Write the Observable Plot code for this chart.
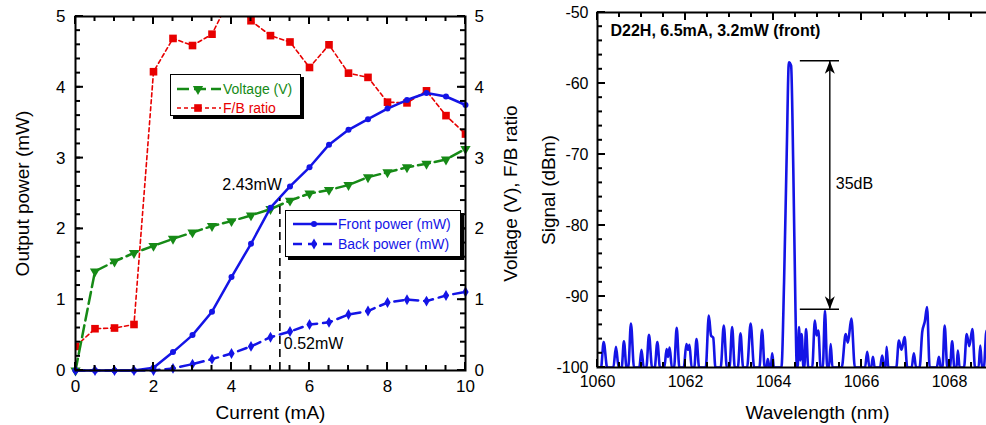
<!DOCTYPE html>
<html><head><meta charset="utf-8">
<script src="https://cdn.jsdelivr.net/npm/d3@7"></script>
<script src="https://cdn.jsdelivr.net/npm/@observablehq/plot@0.6"></script>
<style>
html,body{margin:0;padding:0;background:#fff;overflow:hidden;width:986px;height:425px;}
#wrap{position:relative;width:1100px;height:425px;font-family:'Liberation Sans',Arial,Helvetica,sans-serif;}
.layer{position:absolute;top:0;}
.legend{position:absolute;background:#fff;border:1.5px solid #000;box-shadow:3px 3px 0 #000;box-sizing:border-box;z-index:5;}
.row{position:absolute;left:0;height:18px;display:flex;align-items:center;font-size:14px;white-space:nowrap;}
.row svg{display:block;}
</style></head><body>
<div id="wrap">
  <div id="left" class="layer" style="left:0;z-index:1"></div>
  <div id="right" class="layer" style="left:528px;z-index:1"></div>
  <div class="legend" id="leg1" style="left:170px;top:74px;width:131px;height:42px;"></div>
  <div class="legend" id="leg2" style="left:285px;top:210px;width:176px;height:47px;"></div>
</div>
<script>
// ---------- Data: left panel ----------
const current = [0, 0.5, 1, 1.5, 2, 2.5, 3, 3.5, 4, 4.5, 5, 5.5, 6, 6.5, 7, 7.5, 8, 8.5, 9, 9.5, 10];
const frontPower = [0, 0, 0, 0, 0.04, 0.26, 0.50, 0.83, 1.32, 1.79, 2.30, 2.60, 2.87, 3.19, 3.40, 3.55, 3.70, 3.82, 3.92, 3.87, 3.75];
const backPower = [0, 0, 0, 0, 0, 0.03, 0.09, 0.16, 0.24, 0.34, 0.47, 0.55, 0.65, 0.68, 0.79, 0.84, 0.96, 1.00, 0.98, 1.06, 1.11];
const voltage = [0, 1.40, 1.54, 1.66, 1.76, 1.86, 1.95, 2.04, 2.11, 2.19, 2.28, 2.40, 2.50, 2.55, 2.62, 2.73, 2.80, 2.87, 2.92, 2.98, 3.13];
const fbRatio = [0.34, 0.59, 0.60, 0.65, 4.22, 4.69, 4.59, 4.75, 5.30, 4.94, 4.73, 4.64, 4.28, 4.60, 4.20, 4.14, 3.79, 3.78, 3.95, 3.60, 3.34];
const markCurrent = 5.24;
const markFront = 2.43;
const markBack = 0.52;
const leftXTicks = [0, 2, 4, 6, 8, 10];
const leftYTicks = [0, 1, 2, 3, 4, 5];

// ---------- Data: right panel (spectrum) ----------
const wavelength = [
 1060.00,1060.08,1060.14,1060.22,1060.36,1060.42,1060.48,1060.55,1060.60,1060.66,
 1060.70,1060.76,1060.83,1060.95,1061.00,1061.05,1061.11,1061.17,1061.24,1061.30,
 1061.36,1061.42,1061.52,1061.57,1061.60,1061.64,1061.69,1061.74,1061.80,1061.86,
 1061.96,1062.02,1062.06,1062.09,1062.14,1062.20,1062.25,1062.31,1062.46,1062.53,
 1062.58,1062.63,1062.68,1062.80,1062.87,1062.94,1063.00,1063.06,1063.12,1063.19,
 1063.25,1063.31,1063.40,1063.48,1063.56,1063.68,1063.74,1063.80,1063.84,1063.87,
 1063.91,1063.94,1063.97,1064.01,1064.18,1064.24,1064.30,1064.35,1064.40,1064.45,
 1064.50,1064.53,1064.55,1064.58,1064.61,1064.64,1064.68,1064.70,1064.74,1064.79,
 1064.88,1064.94,1064.98,1065.02,1065.07,1065.12,1065.17,1065.22,1065.26,1065.30,
 1065.34,1065.55,1065.64,1065.69,1065.77,1065.85,1066.08,1066.13,1066.18,1066.22,
 1066.26,1066.30,1066.42,1066.47,1066.52,1066.55,1066.57,1066.61,1066.79,1066.85,
 1066.91,1066.98,1067.04,1067.14,1067.19,1067.24,1067.32,1067.38,1067.44,1067.49,
 1067.55,1067.71,1067.76,1067.80,1067.84,1067.89,1067.95,1068.01,1068.06,1068.11,
 1068.16,1068.19,1068.23,1068.33,1068.39,1068.45,1068.52,1068.58,1068.66,1068.70,
 1068.74,1068.78,1068.84,1068.90,1068.95,1069.00];
const signal = [
 -100,-100,-96.4,-100,-100,-97.1,-100,-100,-96.3,-100,
 -100,-93.8,-100,-100,-97.5,-100,-100,-95.4,-100,-100,
 -96.4,-100,-100,-97.4,-98.5,-97.2,-100,-100,-94.4,-100,
 -100,-96.7,-97.5,-96.8,-100,-100,-96.0,-100,-100,-92.7,
 -95.5,-95.8,-100,-100,-94.1,-100,-100,-94.3,-100,-100,
 -95.2,-100,-100,-93.8,-100,-100,-94.7,-100,-100,-98.8,
 -100,-100,-98.0,-100,-100,-88,-70,-57,-57.5,-72,
 -92,-100,-100,-94.3,-99,-95.3,-100,-100,-94.6,-100,
 -100,-93.4,-95.5,-94.8,-100,-100,-92.0,-100,-100,-96.7,
 -100,-100,-95.3,-96.5,-93.1,-100,-100,-97.8,-100,-100,
 -98.5,-100,-100,-98.3,-100,-100,-97.1,-100,-100,-96.2,
 -97.5,-95.7,-100,-100,-98.0,-100,-100,-95.0,-93.5,-91.5,
 -100,-100,-98.5,-100,-100,-94.1,-100,-100,-96.3,-100,
 -100,-97.6,-100,-100,-95.3,-97,-94.6,-100,-100,-96.9,
 -100,-100,-94.8,-100,-97,-100];
const smsrX = 1065.28;
const smsrTop = -56.8;
const smsrBottom = -91.8;
const smsrBarX1 = 1064.61, smsrBarX2 = 1065.50;
const smsrLabel = "35dB";
const smsrLabelY = -74.1;
const specTitle = "D22H, 6.5mA, 3.2mW (front)";
const rightXTicks = [1060, 1062, 1064, 1066, 1068, 1070];
const rightXLabels = [1060, 1062, 1064, 1066, 1068];
const rightYTicks = [-100, -90, -80, -70, -60, -50];

// ---------- Styles ----------
const FONT = "'Liberation Sans', Arial, Helvetica, sans-serif";
const BLUE = "#1414e6", GREEN = "#168a16", RED = "#e80000";

const rows = current.map((c, i) => ({c, front: frontPower[i], back: backPower[i], v: voltage[i], fb: fbRatio[i]}));
const spec = wavelength.map((w, i) => ({w, s: signal[i]}));

function range(a, b, s) { const out = []; for (let i = 0; a + i * s <= b + 1e-9; i++) out.push(+(a + i * s).toFixed(4)); return out; }
const plain = d => String(d);

// Inward ticks: positions come from the chart's own Plot scales
function addInwardTicks(svg, cfg, specs) {
  const sx = svg.scale("x"), sy = svg.scale("y");
  const x0 = cfg.ml, x1 = cfg.w - cfg.mr, y0 = cfg.mt, y1 = cfg.h - cfg.mb;
  const g = d3.select(svg).append("g").attr("stroke", "#000").attr("stroke-width", 2);
  for (const [side, ticks, size] of specs) {
    for (const t of ticks) {
      if (side === "left" || side === "right") {
        const y = sy.apply(t);
        const xa = side === "left" ? x0 : x1, xb = side === "left" ? x0 + size : x1 - size;
        g.append("line").attr("x1", xa).attr("x2", xb).attr("y1", y).attr("y2", y);
      } else {
        const x = sx.apply(t);
        const ya = side === "bottom" ? y1 : y0, yb = side === "bottom" ? y1 - size : y0 + size;
        g.append("line").attr("x1", x).attr("x2", x).attr("y1", ya).attr("y2", yb);
      }
    }
  }
}

// ---------- Left chart ----------
const L = {w: 540, h: 425, ml: 75, mr: 75, mt: 16, mb: 55};
const left = Plot.plot({
  width: L.w, height: L.h,
  marginLeft: L.ml, marginRight: L.mr, marginTop: L.mt, marginBottom: L.mb,
  style: {fontFamily: FONT, fontSize: "17px", color: "#000", background: "#fff"},
  x: {domain: [0, 10], axis: null},
  y: {domain: [0, 5], axis: null},
  marks: [
    Plot.line(rows, {x: "c", y: "fb", stroke: RED, strokeWidth: 1.6, strokeDasharray: "4,3", clip: true}),
    Plot.dot(rows, {x: "c", y: "fb", symbol: "square", r: 4.3, fill: RED, stroke: "none", clip: true}),
    Plot.line(rows, {x: "c", y: "v", stroke: GREEN, strokeWidth: 2.5, strokeDasharray: "12,5"}),
    Plot.dot(rows, {x: "c", y: "v", symbol: "triangle", rotate: 180, r: 3.8, fill: GREEN, stroke: "none"}),
    Plot.line(rows, {x: "c", y: "back", stroke: BLUE, strokeWidth: 2.5, strokeDasharray: "9,6"}),
    Plot.dot(rows, {x: "c", y: "back", symbol: "diamond", r: 3.3, fill: BLUE, stroke: "none"}),
    Plot.line(rows, {x: "c", y: "front", stroke: BLUE, strokeWidth: 2.5}),
    Plot.dot(rows, {x: "c", y: "front", r: 3, fill: BLUE, stroke: "none"}),
    Plot.ruleX([markCurrent], {y1: 0, y2: markFront, stroke: "#000", strokeWidth: 1.6, strokeDasharray: "8,5"}),
    Plot.text([markFront], {x: markCurrent, y: d => d, text: d => d.toFixed(2) + "mW", textAnchor: "end", dx: 2, dy: -14, fontSize: 16}),
    Plot.text([markBack], {x: markCurrent, y: d => d, text: d => d.toFixed(2) + "mW", textAnchor: "start", dx: 4, dy: 10, fontSize: 16}),
    Plot.axisY({anchor: "left", ticks: leftYTicks, tickFormat: plain, tickSize: 0, tickPadding: 10, fontSize: 17, label: null}),
    Plot.axisY({anchor: "right", ticks: leftYTicks, tickFormat: plain, tickSize: 0, tickPadding: 9, fontSize: 17, label: null}),
    Plot.axisX({anchor: "bottom", ticks: leftXTicks, tickFormat: plain, tickSize: 0, tickPadding: 9, fontSize: 17, label: null}),
    Plot.text(["Output power (mW)"], {frameAnchor: "left", dx: -53, rotate: -90, text: d => d, textAnchor: "middle", lineAnchor: "middle", fontSize: 19}),
    Plot.text(["Voltage (V), F/B ratio"], {frameAnchor: "right", dx: 45, rotate: -90, text: d => d, textAnchor: "middle", lineAnchor: "middle", fontSize: 19}),
    Plot.text(["Current (mA)"], {frameAnchor: "bottom", dy: 42, text: d => d, textAnchor: "middle", lineAnchor: "middle", fontSize: 19}),
    Plot.frame({stroke: "#000", strokeWidth: 2})
  ]
});
left.style.maxWidth = "none";
addInwardTicks(left, L, [
  ["left", range(0, 5, 0.2), 5], ["left", leftYTicks, 8],
  ["right", range(0, 5, 0.2), 5], ["right", leftYTicks, 8],
  ["bottom", range(0, 10, 0.5), 5], ["bottom", leftXTicks, 8],
  ["top", range(0, 10, 0.5), 5], ["top", leftXTicks, 8]
]);
document.getElementById("left").appendChild(left);

// ---------- Right chart ----------
const R = {w: 512, h: 425, ml: 69, mr: 3, mt: 12, mb: 58};
const arrowHead = {draw(context, l) {
  context.moveTo(0, 0); context.lineTo(-5, l); context.lineTo(0, l * 0.72); context.lineTo(5, l); context.closePath();
}};
const right = Plot.plot({
  width: R.w, height: R.h,
  marginLeft: R.ml, marginRight: R.mr, marginTop: R.mt, marginBottom: R.mb,
  style: {fontFamily: FONT, fontSize: "16px", color: "#000", background: "#fff"},
  x: {domain: [1060, 1070], axis: null},
  y: {domain: [-100, -50], axis: null},
  marks: [
    Plot.line(spec, {x: "w", y: "s", stroke: BLUE, strokeWidth: 2.6, curve: "monotone-x", clip: true}),
    Plot.ruleX([smsrX], {y1: smsrBottom, y2: smsrTop, stroke: "#000", strokeWidth: 1.4}),
    Plot.ruleY([smsrTop, smsrBottom], {x1: smsrBarX1, x2: smsrBarX2, stroke: "#000", strokeWidth: 1.4}),
    Plot.vector([smsrTop], {x: smsrX, y: d => d, length: 13, anchor: "start", rotate: 0, shape: arrowHead, fill: "#000", stroke: "none"}),
    Plot.vector([smsrBottom], {x: smsrX, y: d => d, length: 13, anchor: "start", rotate: 180, shape: arrowHead, fill: "#000", stroke: "none"}),
    Plot.text([smsrLabel], {x: smsrX, y: smsrLabelY, text: d => d, textAnchor: "start", dx: 6, fontSize: 16}),
    Plot.text([specTitle], {frameAnchor: "top-left", dx: 13, dy: 18, text: d => d, textAnchor: "start", lineAnchor: "middle", fontSize: 16, fontWeight: "bold"}),
    Plot.axisY({anchor: "left", ticks: rightYTicks, tickFormat: plain, tickSize: 0, tickPadding: 9, fontSize: 16, label: null}),
    Plot.axisX({anchor: "bottom", ticks: rightXLabels, tickFormat: plain, tickSize: 0, tickPadding: 8, fontSize: 16, label: null}),
    Plot.text(["Signal (dBm)"], {frameAnchor: "left", dx: -49, rotate: -90, text: d => d, textAnchor: "middle", lineAnchor: "middle", fontSize: 19}),
    Plot.text(["Wavelength (nm)"], {frameAnchor: "bottom", dy: 45, text: d => d, textAnchor: "middle", lineAnchor: "middle", fontSize: 19}),
    Plot.frame({stroke: "#000", strokeWidth: 2})
  ]
});
right.style.maxWidth = "none";
addInwardTicks(right, R, [
  ["left", range(-100, -50, 2), 5], ["left", rightYTicks, 8],
  ["bottom", range(1060, 1070, 0.5), 5], ["bottom", rightXTicks, 8],
  ["top", range(1060, 1070, 0.5), 5], ["top", rightXTicks, 8]
]);
document.getElementById("right").appendChild(right);

// ---------- Legends ----------
function sample(color, dash, width, symbol, rot, r) {
  const sym = d3.symbol(symbol, Math.PI * r * r)();
  return `<svg width="46" height="18"><line x1="1" x2="45" y1="9" y2="9" stroke="${color}" stroke-width="${width}" ${dash ? `stroke-dasharray="${dash}"` : ""}/>` +
    `<path d="${sym}" transform="translate(22,9) rotate(${rot})" fill="${color}"/></svg>`;
}
const legend1 = [
  {label: "Voltage (V)", color: GREEN, dash: "12,5", w: 2.5, sym: d3.symbolTriangle, rot: 180, r: 3.8, top: 5},
  {label: "F/B ratio", color: RED, dash: "4,3", w: 1.6, sym: d3.symbolSquare, rot: 0, r: 4.3, top: 24}
];
const legend2 = [
  {label: "Front power (mW)", color: BLUE, dash: null, w: 2.5, sym: d3.symbolCircle, rot: 0, r: 3, top: 4},
  {label: "Back power (mW)", color: BLUE, dash: "9,6", w: 2.5, sym: d3.symbolDiamond, rot: 0, r: 3.3, top: 24}
];
function fill(id, items, x0, gap) {
  const el = document.getElementById(id);
  el.innerHTML = items.map(it => `<div class="row" style="top:${it.top}px;left:${x0}px;color:${it.color}">${sample(it.color, it.dash, it.w, it.sym, it.rot, it.r)}<span style="margin-left:${gap}px">${it.label}</span></div>`).join("");
}
fill("leg1", legend1, 5, 1);
fill("leg2", legend2, 6, 0);
</script>
</body></html>
